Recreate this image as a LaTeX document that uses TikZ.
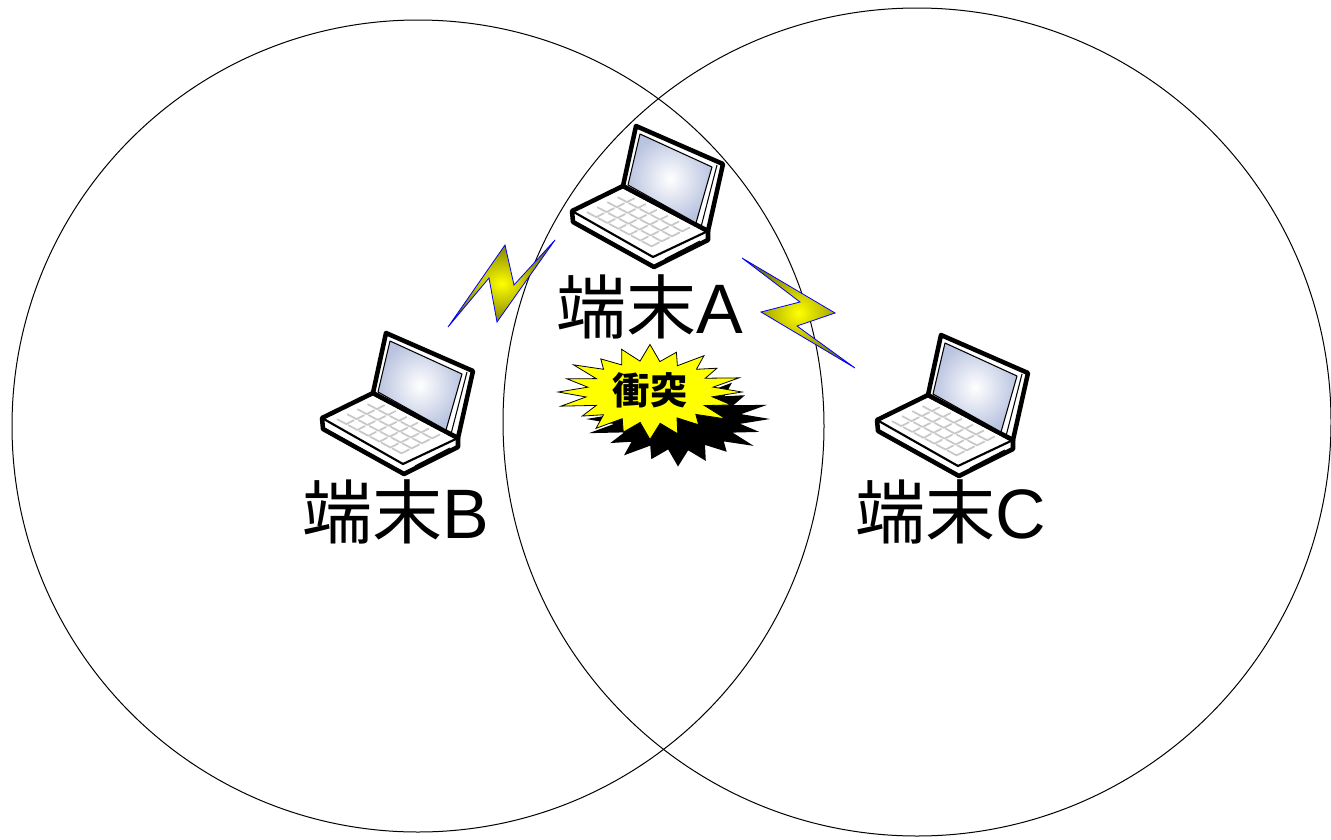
\documentclass[tikz,border=0pt]{standalone}
\usepackage{fontspec}
\setmainfont{Liberation Sans}
\newfontfamily\jp{Noto Sans CJK JP}
\definecolor{screenblue}{RGB}{186,196,224}
\definecolor{boltdark}{RGB}{115,115,0}
\definecolor{boltlight}{RGB}{255,255,0}
\definecolor{keygray}{RGB}{200,200,200}
\definecolor{burstyellow}{RGB}{255,255,0}

\newcommand\burstshape{(92,0)
  \foreach \a/\r in {9/0.70, 18/0.95, 27/0.68, 36/1.04, 45/0.72, 54/0.92, 63/0.66,
    72/1.0, 81/0.72, 90/1.08, 99/0.70, 108/0.96, 117/0.68, 126/1.02, 135/0.73,
    144/0.93, 153/0.67, 162/1.04, 171/0.72, 180/1.02, 189/0.70, 198/0.97,
    207/0.67, 216/1.05, 225/0.73, 234/0.93, 243/0.69, 252/1.02, 261/0.71,
    270/1.08, 279/0.70, 288/0.95, 297/0.67, 306/1.02, 315/0.73, 324/0.92,
    333/0.69, 342/1.04, 351/0.71}{ -- ({\r*90*cos(\a)},{\r*44*sin(\a)}) } -- cycle}

\tikzset{
  zone/.style={draw=black, line width=0.75pt},
  outline/.style={draw=black, fill=white, line width=3.4pt, line join=round},
  keystroke/.style={draw=keygray, line width=1.3pt, line cap=round, line join=round},
  boltshape/.style={inner color=boltlight, outer color=boltdark, draw=blue, line width=0.6pt, line join=miter},
  termlabel/.style={font=\fontsize{52.5}{60}\selectfont, anchor=base, inner sep=0pt},
  laptop/.pic={
    % base with keyboard deck
    \path[outline] (2,88) -- (53,63) -- (138,108) -- (138,117) -- (84,144) -- (3,99) -- cycle;
    \draw[line width=1.6pt, line join=round] (2,88) -- (83,134) -- (138,108);
    \draw[line width=0.8pt] (95,136) -- (130,118);
    % keys
    \foreach \i in {0,...,5}{\foreach \j in {0,...,3}{
      \pgfmathsetmacro\px{53+85*(0.1+0.13*\i)-51*(0.12+0.2*\j)}
      \pgfmathsetmacro\py{63+45*(0.1+0.13*\i)+25*(0.12+0.2*\j)}
      \draw[keystroke] (\px+9,\py+4.8) -- (\px+1.5,\py+8.6) -- (\px-7.5,\py+3.8);
    }}
    % lid and screen
    \path[outline] (53,63) -- (66,3) -- (153,41) -- (138,108) -- cycle;
    \draw[line width=0.8pt] (147,42) -- (131,104);
    \shade[inner color=white, outer color=screenblue] (70,11) -- (142,44) -- (126,100) -- (58,62) -- cycle;
    \draw[line width=0.8pt, line join=round] (70,11) -- (142,44) -- (126,100) -- (58,62) -- cycle;
    \coordinate (-c) at (80,75);
  }
}

\begin{document}
\begin{tikzpicture}[x=0.75pt, y=-0.75pt]
  \useasboundingbox (0,0) rectangle (1331,839);
  \clip (0,0) rectangle (1331,839);
  \fill[white] (0,0) rectangle (1331,839);

  % coverage areas
  \draw[zone] (418,426) circle[radius=406];
  \draw[zone] (917,422) circle[radius=414];

  % terminals
  \pic (lapA) at (570,123) {laptop};
  \pic (lapB) at (320,330) {laptop};
  \pic (lapC) at (875,332) {laptop};

  % radio bolts
  \shadedraw[boltshape] (448,327) -- (505,245) -- (514,285) -- (555,240) -- (497,322) -- (489,278) -- cycle;
  \shadedraw[boltshape] (742,258) -- (835,313) -- (797,326) -- (855,368) -- (761,312) -- (800,302) -- cycle;

  % labels
  \node[termlabel] (labA) at (650,333) {{\jp 端末}A};
  \node[termlabel] (labB) at (396,538) {{\jp 端末}B};
  \node[termlabel] (labC) at (951,538) {{\jp 端末}C};

  % collision burst with shadow
  \fill[black, shift={(678,419)}] \burstshape;
  \filldraw[fill=burstyellow, draw=black, line width=0.6pt, shift={(650,392)}] \burstshape;
  \node[font=\jp\bfseries\fontsize{28}{32}\selectfont, inner sep=0pt] (clash) at (650,390) {衝突};
\end{tikzpicture}
\end{document}
